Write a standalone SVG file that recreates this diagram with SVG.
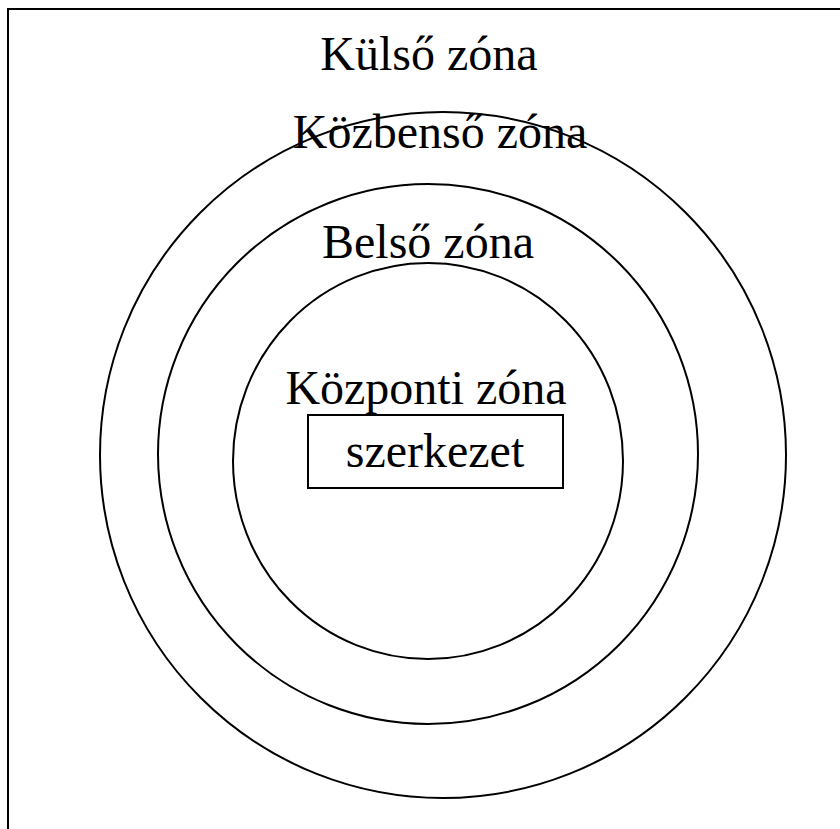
<svg xmlns="http://www.w3.org/2000/svg" width="840" height="829" viewBox="0 0 840 829">
<style>
.ln{fill:none;stroke:#000;stroke-width:2}
.t{font-family:"Liberation Serif","Times New Roman",serif;font-size:48px;fill:#000;text-anchor:middle}
</style>
<rect width="840" height="829" fill="#fff"/>
<g id="frame"><path class="ln" d="M8,829 V9 H840"/></g>
<g id="outer"><circle class="ln" cx="443" cy="455" r="343"/><text class="t" x="429" y="70">Külső zóna</text></g>
<g id="middle"><circle class="ln" cx="428" cy="454" r="270"/><text class="t" x="440" y="148">Közbenső zóna</text></g>
<g id="inner"><ellipse class="ln" cx="428" cy="461" rx="195" ry="198"/><text class="t" x="428" y="258">Belső zóna</text></g>
<g id="central"><text class="t" x="426" y="404">Központi zóna</text></g>
<g id="structure"><rect class="ln" x="308" y="415" width="255" height="73"/><text class="t" x="435" y="467">szerkezet</text></g>
<g id="connectors"/>
</svg>
